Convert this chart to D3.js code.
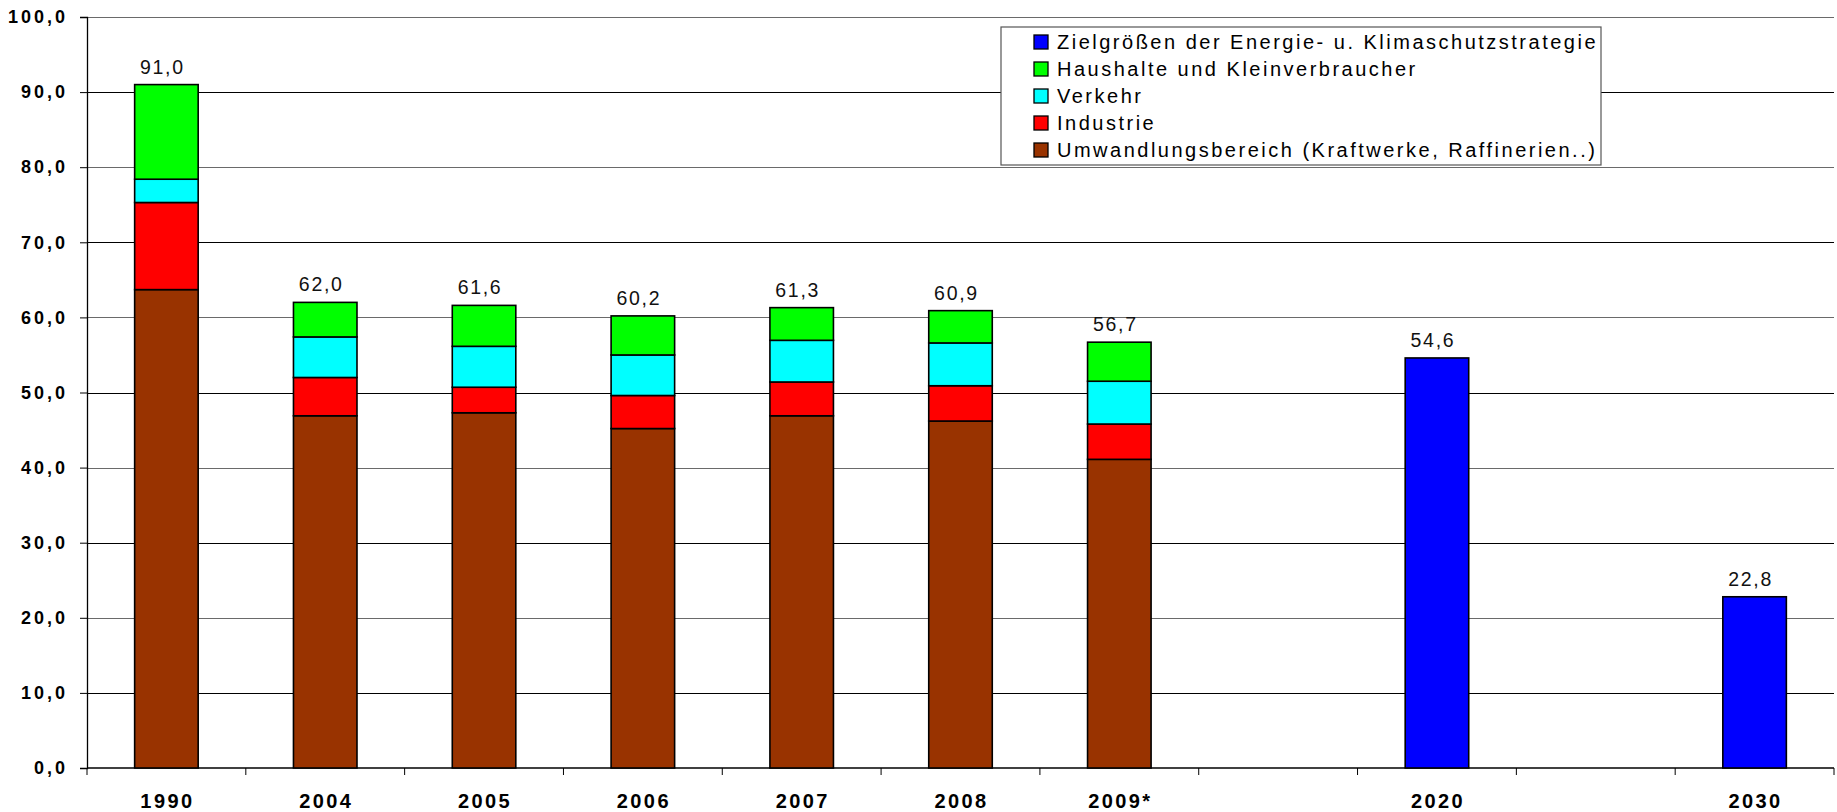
<!DOCTYPE html>
<html>
<head>
<meta charset="utf-8">
<script src="https://cdn.jsdelivr.net/npm/d3@7"></script>
<style>
  html, body { margin: 0; padding: 0; background: #fff; }
  svg { display: block; font-family: "Liberation Sans", Arial, sans-serif; }
</style>
</head>
<body>
<svg id="chart" width="1837" height="812"></svg>
<script>
// categories ("" = empty slot on the axis)
var categories = ["1990", "2004", "2005", "2006", "2007", "2008", "2009*", "", "2020", "", "2030"];

// stacked series, bottom to top
var umwandlung = [63.7, 46.9, 47.3, 45.2, 46.9, 46.2, 41.1, 0, 0, 0, 0];
var industrie  = [11.6,  5.1,  3.4,  4.4,  4.5,  4.7,  4.7, 0, 0, 0, 0];
var verkehr    = [ 3.1,  5.4,  5.45, 5.4,  5.55, 5.7,  5.7, 0, 0, 0, 0];
var haushalte  = [12.6,  4.6,  5.45, 5.2,  4.35, 4.3,  5.2, 0, 0, 0, 0];
var ziel       = [   0,    0,    0,    0,    0,    0,    0, 0, 54.6, 0, 22.8];

// totals printed above the bars
var totals = [91.0, 62.0, 61.6, 60.2, 61.3, 60.9, 56.7, null, 54.6, null, 22.8];

var yTicks = [0, 10, 20, 30, 40, 50, 60, 70, 80, 90, 100];

var seriesNames = [
    "Umwandlungsbereich (Kraftwerke, Raffinerien..)",
    "Industrie",
    "Verkehr",
    "Haushalte und Kleinverbraucher",
    "Zielgrößen der Energie- u. Klimaschutzstrategie"
];
var seriesColors = ["#993300", "#ff0000", "#00ffff", "#00ff00", "#0000ff"];

(function () {
    "use strict";
    var svg = d3.select("#chart");
    var left = 87, right = 1834, top = 17, bottom = 768;

    var de = d3.formatLocale({decimal: ",", thousands: ".", grouping: [3], currency: ["", " €"]});
    var fmt = de.format(".1f");

    var x = d3.scaleBand()
        .domain(d3.range(categories.length))
        .range([left, right])
        .paddingInner(0.6)
        .paddingOuter(0.3);
    var step = x.step();

    var y = d3.scaleLinear().domain([0, 100]).range([bottom, top]);

    var rows = categories.map(function (c, i) {
        return {i: i, s0: umwandlung[i], s1: industrie[i], s2: verkehr[i], s3: haushalte[i], s4: ziel[i]};
    });
    var keys = ["s0", "s1", "s2", "s3", "s4"];
    var stacked = d3.stack().keys(keys)(rows);

    // gridlines
    svg.append("g")
        .selectAll("line")
        .data(yTicks.slice(1))
        .enter().append("line")
        .attr("x1", left).attr("x2", right)
        .attr("y1", function (d) { return Math.round(y(d)) + 0.5; })
        .attr("y2", function (d) { return Math.round(y(d)) + 0.5; })
        .attr("stroke", function (d) { return d % 20 === 0 ? "#6a6a6a" : "#000"; })
        .attr("stroke-width", 1.2);

    // y axis
    var yAxis = svg.append("g")
        .attr("transform", "translate(" + left + ",0)")
        .call(d3.axisLeft(y).tickValues(yTicks).tickSize(7).tickFormat(fmt));
    yAxis.select(".domain").attr("stroke", "#000").attr("stroke-width", 1.3);
    yAxis.selectAll(".tick line").attr("stroke", "#000");
    yAxis.selectAll(".tick text")
        .attr("x", -19)
        .style("font-size", "18px")
        .style("font-weight", "bold")
        .style("letter-spacing", "3px")
        .attr("fill", "#000");

    // x axis: ticks between categories
    var xg = svg.append("g").attr("transform", "translate(0," + bottom + ")");
    xg.append("line")
        .attr("x1", left).attr("x2", right)
        .attr("stroke", "#000").attr("stroke-width", 1.3);
    xg.selectAll("line.tk")
        .data(d3.range(categories.length + 1))
        .enter().append("line")
        .attr("class", "tk")
        .attr("x1", function (i) { return left + i * step; })
        .attr("x2", function (i) { return left + i * step; })
        .attr("y1", 0).attr("y2", 7)
        .attr("stroke", "#000");
    xg.selectAll("text")
        .data(categories)
        .enter().append("text")
        .attr("x", function (d, i) { return x(i) + x.bandwidth() / 2 + 1; })
        .attr("y", 40)
        .attr("text-anchor", "middle")
        .style("font-size", "20px")
        .style("font-weight", "bold")
        .style("letter-spacing", "2.4px")
        .text(function (d) { return d; });

    // bars
    svg.append("g")
        .selectAll("g")
        .data(stacked)
        .enter().append("g")
        .attr("fill", function (d, i) { return seriesColors[i]; })
        .selectAll("rect")
        .data(function (d) { return d.filter(function (p) { return p[1] > p[0]; }); })
        .enter().append("rect")
        .attr("x", function (p) { return x(p.data.i); })
        .attr("width", x.bandwidth())
        .attr("y", function (p) { return y(p[1]); })
        .attr("height", function (p) { return y(p[0]) - y(p[1]); })
        .attr("stroke", "#000")
        .attr("stroke-width", 1.6);

    // value labels (drawn slightly left of the bar centre, as in the original)
    svg.append("g")
        .selectAll("text")
        .data(totals.map(function (t, i) { return {t: t, i: i}; }).filter(function (d) { return d.t !== null; }))
        .enter().append("text")
        .attr("x", function (d) { return x(d.i) + x.bandwidth() / 2 - 4; })
        .attr("y", function (d) { return y(d.t) - 11; })
        .attr("text-anchor", "middle")
        .style("font-size", "19.5px")
        .style("letter-spacing", "1.7px")
        .attr("fill", "#111")
        .text(function (d) { return fmt(d.t); });

    // legend
    var lg = svg.append("g").attr("transform", "translate(1001,27)");
    lg.append("rect")
        .attr("width", 600).attr("height", 138)
        .attr("fill", "#fff")
        .attr("stroke", "#555").attr("stroke-width", 1.2);
    var order = [4, 3, 2, 1, 0];
    var item = lg.selectAll("g.item")
        .data(order)
        .enter().append("g")
        .attr("class", "item")
        .attr("transform", function (d, k) { return "translate(33," + (15 + k * 27) + ")"; });
    item.append("rect")
        .attr("y", -7)
        .attr("width", 14).attr("height", 14)
        .attr("fill", function (d) { return seriesColors[d]; })
        .attr("stroke", "#000").attr("stroke-width", 1.3);
    item.append("text")
        .attr("x", 23).attr("y", 7)
        .style("font-size", "20px")
        .style("letter-spacing", "2.5px")
        .attr("fill", "#000")
        .text(function (d) { return seriesNames[d]; });
})();
</script>
</body>
</html>
